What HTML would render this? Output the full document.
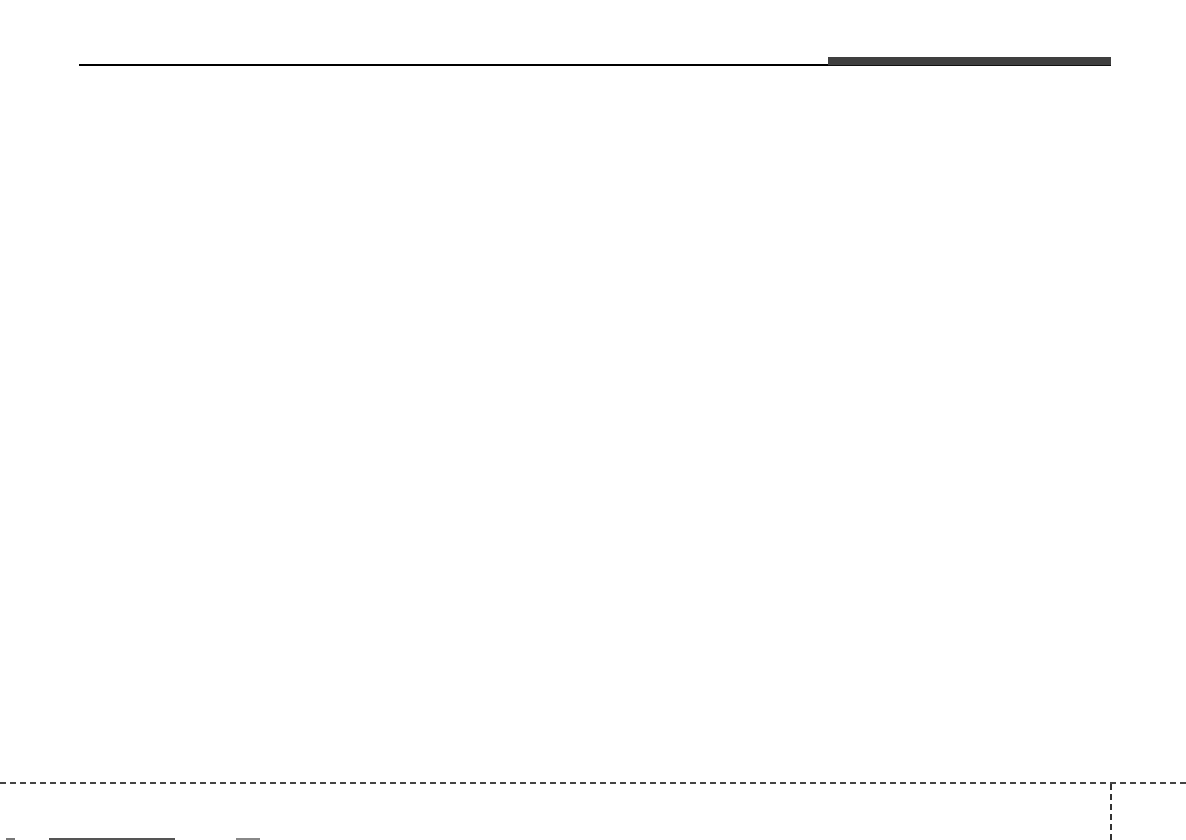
<!DOCTYPE html>
<html><head><meta charset="utf-8"><style>
html,body{margin:0;padding:0;background:#fff;}
body{width:1186px;height:840px;position:relative;overflow:hidden;}
.a{position:absolute;}
</style></head><body>
<div class="a" style="left:79px;top:64px;width:750px;height:2px;background:#000;"></div>
<div class="a" style="left:828px;top:57px;width:283px;height:8px;background:#3f3f3f;border-bottom:1px solid #111;"></div>
<div class="a" style="left:0;top:782px;width:1186px;height:0;border-top:2px dashed #444;"></div>
<div class="a" style="left:1110px;top:784px;width:0;height:56px;border-left:2px dashed #333;"></div>
<div class="a" style="left:6px;top:838px;width:9px;height:2px;background:#777;"></div>
<div class="a" style="left:49px;top:838px;width:126px;height:2px;background:#555;"></div>
<div class="a" style="left:236px;top:838px;width:24px;height:2px;background:#888;"></div>
</body></html>
